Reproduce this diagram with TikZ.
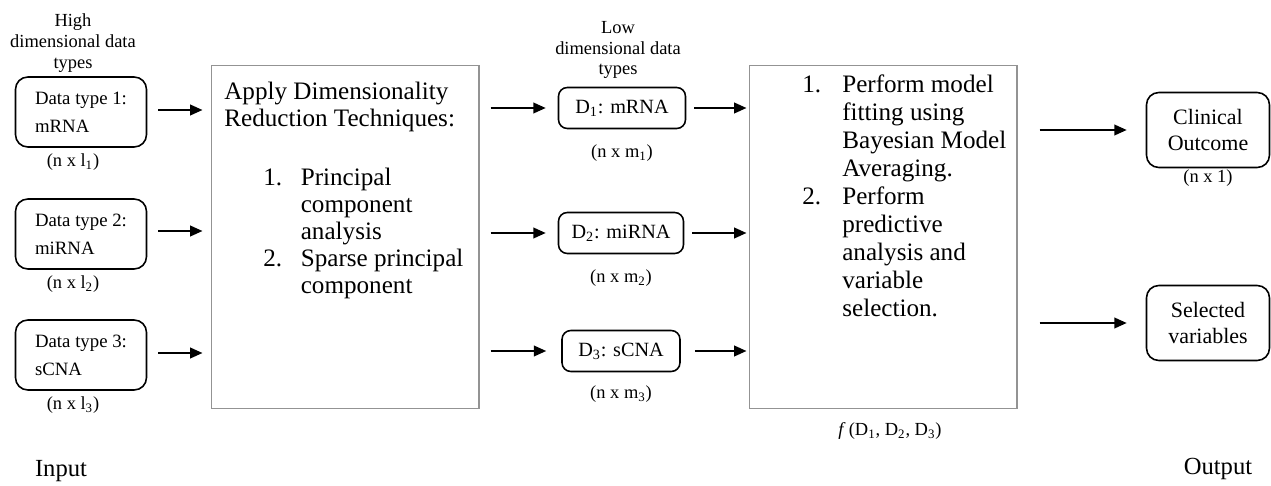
\documentclass[tikz,border=0pt]{standalone}
\usepackage{fontspec}
\setmainfont{Liberation Serif}
\usetikzlibrary{arrows.meta, positioning}
\tikzstyle{arr}=[-{Triangle[length=7pt,width=6pt]},line width=1.1pt]
\tikzstyle{inbox}=[draw,rounded corners=7pt,line width=0.9pt,minimum width=2.62cm,
  minimum height=1.4cm,align=left,font=\fontsize{10.7}{16}\selectfont]
\tikzstyle{lowbox}=[draw,rounded corners=5pt,line width=0.9pt,minimum height=0.82cm,
  font=\fontsize{11.5}{14}\selectfont]
\tikzstyle{outbox}=[draw,rounded corners=7pt,line width=0.9pt,minimum width=2.46cm,
  minimum height=1.5cm,align=center,font=\fontsize{12.5}{15}\selectfont]
\tikzstyle{bigbox}=[draw=gray!85,line width=0.6pt,minimum width=5.36cm,minimum height=6.86cm]
\tikzstyle{bigtxt}=[anchor=north west,inner sep=0pt]
\tikzstyle{dimlbl}=[font=\fontsize{10.5}{12}\selectfont,inner sep=0pt]
\tikzstyle{head}=[align=center,font=\fontsize{10.5}{11.8}\selectfont]
\tikzstyle{side}=[font=\fontsize{14}{16}\selectfont]

\begin{document}
\begin{tikzpicture}[x=0.02cm,y=-0.02cm]
  \useasboundingbox (0,0) rectangle (1271,486);
  % column headers
  \node[head] (hhigh) at (73,43) {High\\dimensional data\\types};
  \node[head] (hlow) at (618,50) {Low\\dimensional data\\types};

  % input data types
  \node[inbox] (t1) at (81,112) {Data type 1:\\mRNA};
  \node[inbox] (t2) at (81,234) {Data type 2:\\miRNA};
  \node[inbox] (t3) at (81,355) {Data type 3:\\sCNA};
  \node[dimlbl,below=0.12cm of t1,xshift=-0.16cm] (l1) {(n x l\textsubscript{1})};
  \node[dimlbl,below=0.12cm of t2,xshift=-0.16cm] (l2) {(n x l\textsubscript{2})};
  \node[dimlbl,below=0.12cm of t3,xshift=-0.16cm] (l3) {(n x l\textsubscript{3})};

  % dimensionality reduction
  \node[bigbox] (dr) at (345,237) {};
  \node[bigtxt,font=\fontsize{14.3}{15.4}\selectfont] (drtxt) at (224,80) {%
    \begin{tabular}{@{\hspace{0.78cm}}p{0.75cm}@{}l@{}}
      \multicolumn{2}{@{}l@{}}{Apply Dimensionality}\\
      \multicolumn{2}{@{}l@{}}{Reduction Techniques:}\\[18pt]
      1. & Principal\\
         & component\\
         & analysis\\
      2. & Sparse principal\\
         & component
    \end{tabular}};

  % low dimensional data types
  \node[lowbox,minimum width=2.54cm] (d1) at (622,108) {D\textsubscript{1}: mRNA};
  \node[lowbox,minimum width=2.5cm] (d2) at (621,233) {D\textsubscript{2}: miRNA};
  \node[lowbox,minimum width=2.36cm] (d3) at (621,351) {D\textsubscript{3}: sCNA};
  \node[dimlbl,below=0.3cm of d1] (m1) {(n x m\textsubscript{1})};
  \node[dimlbl,below=0.3cm of d2] (m2) {(n x m\textsubscript{2})};
  \node[dimlbl,below=0.26cm of d3] (m3) {(n x m\textsubscript{3})};

  % model
  \node[bigbox] (dm) at (883,237) {};
  \node[bigtxt,font=\fontsize{14.3}{16}\selectfont] (dmtxt) at (749,72) {%
    \begin{tabular}{@{\hspace{1.06cm}}p{0.8cm}@{}l@{}}
      1. & Perform model\\
         & fitting using\\
         & Bayesian Model\\
         & Averaging.\\
      2. & Perform\\
         & predictive\\
         & analysis and\\
         & variable\\
         & selection.
    \end{tabular}};
  \node[dimlbl,below=0.26cm of dm,xshift=0.14cm] (fd) {\textit{f}\,(D\textsubscript{1}, D\textsubscript{2}, D\textsubscript{3})};

  % outputs
  \node[outbox] (oc) at (1208,130) {Clinical\\Outcome};
  \node[outbox] (os) at (1208,323) {Selected\\variables};
  \node[dimlbl,below=0.02cm of oc] (o1) {(n x 1)};

  \node[side] (in) at (61,471) {Input};
  \node[side] (out) at (1218,469) {Output};

  % connectors
  \draw[arr,shorten <=0.22cm,shorten >=0.16cm] ([yshift=0.04cm]t1.east) -- ([yshift=0.04cm]t1.east -| dr.west);
  \draw[arr,shorten <=0.22cm,shorten >=0.16cm] ([yshift=0.06cm]t2.east) -- ([yshift=0.06cm]t2.east -| dr.west);
  \draw[arr,shorten <=0.22cm,shorten >=0.16cm] ([yshift=0.04cm]t3.east) -- ([yshift=0.04cm]t3.east -| dr.west);
  \draw[arr,shorten <=0.22cm,shorten >=0.24cm] (d1.west -| dr.east) -- (d1.west);
  \draw[arr,shorten <=0.22cm,shorten >=0.24cm] (d2.west -| dr.east) -- (d2.west);
  \draw[arr,shorten <=0.22cm,shorten >=0.3cm] (d3.west -| dr.east) -- (d3.west);
  \draw[arr,shorten <=0.16cm,shorten >=0.04cm] (d1.east) -- (d1.east -| dm.west);
  \draw[arr,shorten <=0.16cm,shorten >=0.04cm] (d2.east) -- (d2.east -| dm.west);
  \draw[arr,shorten <=0.28cm,shorten >=0.04cm] (d3.east) -- (d3.east -| dm.west);
  \draw[arr,shorten <=0.44cm,shorten >=0.38cm] (oc.west -| dm.east) -- (oc.west);
  \draw[arr,shorten <=0.44cm,shorten >=0.38cm] (os.west -| dm.east) -- (os.west);
\end{tikzpicture}
\end{document}
